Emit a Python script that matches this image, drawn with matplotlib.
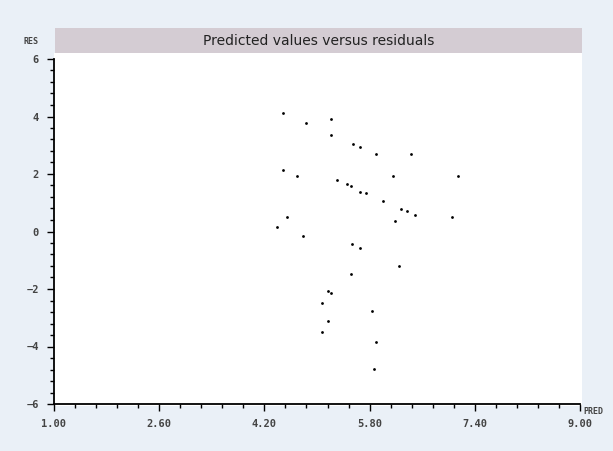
import numpy as np
import matplotlib.pyplot as plt
from matplotlib.patches import Rectangle

# predicted values and residuals
pred = [4.48, 4.84, 5.22, 5.22, 5.54, 5.66, 5.90, 6.43, 4.48, 4.69,
        6.16, 7.15, 5.31, 5.45, 5.52, 5.66, 5.75, 6.01, 6.28, 6.37,
        6.49, 6.19, 7.05, 4.54, 4.39, 4.78, 5.53, 5.66, 6.25, 5.52,
        5.16, 5.22, 5.07, 5.84, 5.16, 5.07, 5.90, 5.87]
res = [4.13, 3.76, 3.90, 3.35, 3.06, 2.94, 2.68, 2.68, 2.13, 1.92,
       1.92, 1.92, 1.79, 1.65, 1.58, 1.38, 1.35, 1.05, 0.77, 0.70,
       0.57, 0.36, 0.50, 0.50, 0.16, -0.17, -0.45, -0.58, -1.19, -1.48,
       -2.08, -2.14, -2.49, -2.76, -3.10, -3.50, -3.84, -4.79]

xticks = [1.00, 2.60, 4.20, 5.80, 7.40, 9.00]
xlabels = ['1.00', '2.60', '4.20', '5.80', '7.40', '9.00']
yticks = [-6, -4, -2, 0, 2, 4, 6]

W, H = 613, 451
bg = '#eaf0f7'

fig = plt.figure(figsize=(W / 100, H / 100), dpi=100, facecolor=bg)

# white plotting area and the title band, in pixel units
def px_rect(x0, y0, x1, y1, color):
    fig.patches.append(Rectangle((x0 / W, 1 - y1 / H), (x1 - x0) / W, (y1 - y0) / H,
                                 transform=fig.transFigure, facecolor=color,
                                 edgecolor='none', zorder=-5))

px_rect(54, 53, 582, 406, 'white')
px_rect(55, 28, 582, 53, '#d4ccd3')
fig.text((55 + 582) / 2 / W, 1 - 41 / H, 'Predicted values versus residuals',
         ha='center', va='center', fontsize=10, color='#222222')

ax = fig.add_axes([54 / W, 1 - 404 / H, 526 / W, 345 / H])
ax.patch.set_alpha(0)
ax.scatter(pred, res, s=4, color='black', linewidths=0, zorder=3)

ax.set_xlim(1, 9)
ax.set_ylim(-6, 6)
ax.set_xticks(xticks)
ax.set_xticklabels(xlabels)
ax.set_xticks(np.arange(1, 9.01, 0.32), minor=True)
ax.set_yticks(yticks)
ax.set_yticks(np.arange(-6, 6.01, 0.4), minor=True)

for s in ['top', 'right']:
    ax.spines[s].set_visible(False)
for s in ['left', 'bottom']:
    ax.spines[s].set_linewidth(1.3)
    ax.spines[s].set_color('black')

ax.tick_params(which='major', direction='out', length=5, width=1, color='black',
               labelsize=7.5, labelcolor='#444444', pad=6)
ax.tick_params(which='minor', direction='out', length=3, width=1, color='black')
for lab in ax.get_xticklabels() + ax.get_yticklabels():
    lab.set_family('DejaVu Sans Mono')
    lab.set_fontweight('bold')

fig.text(31 / W, 1 - 42 / H, 'RES', ha='center', va='center', fontsize=6,
         color='#444444', fontweight='bold', family='DejaVu Sans Mono')
fig.text(583 / W, 1 - 412 / H, 'PRED', ha='left', va='center', fontsize=6,
         color='#444444', fontweight='bold', family='DejaVu Sans Mono')

fig.savefig('out.png', dpi=100, facecolor=bg)
